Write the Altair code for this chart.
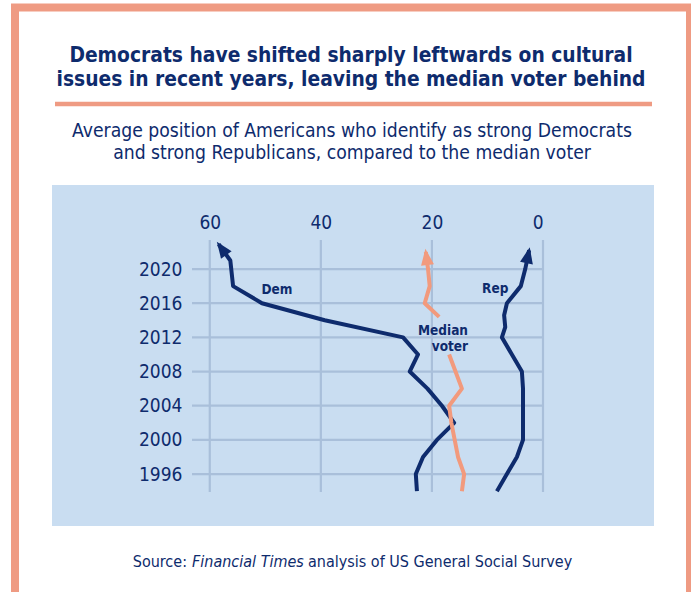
import math
import altair as alt
import pandas as pd

# ---------------- data ----------------
dem_years = [1994, 1996, 1998, 2000, 2002, 2004, 2006, 2008, 2010, 2012, 2014, 2016, 2018, 2021, 2022.9]
dem_vals = [22.7, 22.9, 21.6, 19.1, 16.0, 18.2, 20.8, 24.0, 22.5, 25.2, 39.3, 50.6, 55.8, 56.3, 58.4]

rep_years = [1994, 1996, 1998, 2000, 2002, 2004, 2006, 2008, 2010, 2012, 2013.2, 2014.6, 2016, 2018, 2020, 2022.2]
rep_vals = [8.3, 6.5, 4.7, 3.6, 3.6, 3.6, 3.6, 3.8, 5.6, 7.4, 6.8, 7.0, 6.5, 4.0, 3.2, 2.5]

med_years_a = [1994, 1996, 1998, 2000, 2002, 2004, 2006, 2010]
med_vals_a = [14.6, 14.2, 15.3, 15.9, 16.5, 16.9, 14.6, 16.9]
med_years_b = [2014.4, 2016, 2018, 2020, 2022.0]
med_vals_b = [18.7, 21.3, 20.4, 20.7, 21.1]

x_ticks = [0, 20, 40, 60]
y_ticks = [1996, 2000, 2004, 2008, 2012, 2016, 2020]

label_text = ["Dem", "Rep", "Median", "voter"]
label_vals = [47.9, 8.6, 13.5, 13.5]
label_years = [2017.6, 2017.7, 2012.7, 2010.9]
label_align = ["center", "center", "right", "right"]

title_lines = ["Democrats have shifted sharply leftwards on cultural",
               "issues in recent years, leaving the median voter behind"]
subtitle_lines = ["Average position of Americans who identify as strong Democrats",
                  "and strong Republicans, compared to the median voter"]

# ---------------- style ----------------
NAVY = "#0e2b6d"
SALMON = "#f29a7d"
BORDER = "#ef9b83"
PANEL = "#c9ddf1"
GRID = "#a9bfda"
NARROW = "'Liberation Sans Narrow', 'DejaVu Sans Condensed', 'Roboto', sans-serif"

X0, Y0 = 192, 240
W, H = 351, 252
XDOM = [0, 63.2]
YDOM = [1993.9, 2023.4]

xs = alt.Scale(domain=XDOM, reverse=True, nice=False, zero=False)
ys = alt.Scale(domain=YDOM, nice=False, zero=False)

X_AXIS = alt.Axis(orient="top", values=x_ticks, grid=False, domain=False, ticks=False,
                  labelFont=NARROW, labelFontSize=19, labelColor=NAVY,
                  labelPadding=8, zindex=1, title=None)
Y_AXIS = alt.Axis(orient="left", values=y_ticks, format="d", grid=False, domain=False,
                  ticks=False, labelFont=NARROW, labelFontSize=19, labelColor=NAVY,
                  labelPadding=10, zindex=1, title=None)

# ---------------- tables ----------------
rows = []
for y, v in zip(dem_years, dem_vals):
    rows.append({"series": "Dem", "seg": "dem", "year": y, "value": v})
for y, v in zip(rep_years, rep_vals):
    rows.append({"series": "Rep", "seg": "rep", "year": y, "value": v})
for y, v in zip(med_years_a, med_vals_a):
    rows.append({"series": "Median", "seg": "med_a", "year": y, "value": v})
for y, v in zip(med_years_b, med_vals_b):
    rows.append({"series": "Median", "seg": "med_b", "year": y, "value": v})
lines_df = pd.DataFrame(rows)

px_x = W / (XDOM[1] - XDOM[0])
px_y = H / (YDOM[1] - YDOM[0])


def head(series, years, vals):
    dx = -(vals[-1] - vals[-2]) * px_x
    dy = -(years[-1] - years[-2]) * px_y
    ang = math.degrees(math.atan2(dx, -dy)) % 360
    return {"series": series, "year": years[-1], "value": vals[-1], "angle": ang}


heads_df = pd.DataFrame([
    head("Dem", dem_years, dem_vals),
    head("Rep", rep_years, rep_vals),
    head("Median", med_years_b, med_vals_b),
])

labels_df = pd.DataFrame({"text": label_text, "value": label_vals,
                          "year": label_years, "align": label_align})

color = alt.Color("series:N", scale=alt.Scale(domain=["Dem", "Rep", "Median"],
                                              range=[NAVY, NAVY, SALMON]), legend=None)

one = alt.Data(values=[{}])


def box(x, x2, y, y2, **kw):
    return alt.Chart(one).mark_rect(**kw).encode(
        x=alt.value(x - X0), x2=alt.value(x2 - X0),
        y=alt.value(y - Y0), y2=alt.value(y2 - Y0))


def txt(text, x, y, size, weight="normal", style="normal", align="center",
        font=NARROW, col=NAVY):
    return alt.Chart(alt.Data(values=[{"t": text}])).mark_text(
        align=align, baseline="alphabetic", fontSize=size, fontWeight=weight,
        fontStyle=style, font=font, color=col
    ).encode(text="t:N", x=alt.value(x - X0), y=alt.value(y - Y0))


border = box(15, 690, 7.5, 700, fill="transparent", stroke=BORDER, strokeWidth=8)
panel = box(52, 654, 185, 526, fill=PANEL)
rule_title = alt.Chart(one).mark_rule(color=BORDER, strokeWidth=4.5).encode(
    x=alt.value(55 - X0), x2=alt.value(652 - X0), y=alt.value(104 - Y0))

vgrid = alt.Chart(pd.DataFrame({"value": x_ticks})).mark_rule(color=GRID, strokeWidth=2.2).encode(
    x=alt.X("value:Q", scale=xs, axis=X_AXIS), y=alt.value(0), y2=alt.value(H))
hgrid = alt.Chart(pd.DataFrame({"year": y_ticks})).mark_rule(color=GRID, strokeWidth=2.2).encode(
    y=alt.Y("year:Q", scale=ys, axis=Y_AXIS), x=alt.value(0), x2=alt.value(W))

lines = alt.Chart(lines_df).mark_line(strokeWidth=4, strokeJoin="round", strokeCap="butt").encode(
    x=alt.X("value:Q", scale=xs, axis=X_AXIS),
    y=alt.Y("year:Q", scale=ys, axis=Y_AXIS),
    color=color,
    detail="seg:N",
    order="year:Q",
)

heads = alt.Chart(heads_df).mark_point(
    shape="M0,-0.3L-0.62,1.25L0.62,1.25Z", filled=True, opacity=1, size=441, strokeWidth=0
).encode(
    x=alt.X("value:Q", scale=xs, axis=X_AXIS),
    y=alt.Y("year:Q", scale=ys, axis=Y_AXIS),
    angle=alt.Angle("angle:Q", scale=None),
    color=color,
)

labels_c = alt.Chart(labels_df[labels_df["align"] == "center"]).mark_text(
    align="center", baseline="middle", font=NARROW, fontSize=13.5, fontWeight="bold", color=NAVY
).encode(x=alt.X("value:Q", scale=xs, axis=X_AXIS), y=alt.Y("year:Q", scale=ys, axis=Y_AXIS),
         text="text:N")
labels_r = alt.Chart(labels_df[labels_df["align"] == "right"]).mark_text(
    align="right", baseline="middle", font=NARROW, fontSize=13.5, fontWeight="bold", color=NAVY
).encode(x=alt.X("value:Q", scale=xs, axis=X_AXIS), y=alt.Y("year:Q", scale=ys, axis=Y_AXIS),
         text="text:N")

t1 = txt(title_lines[0], 351, 62, 20.8, weight="bold")
t2 = txt(title_lines[1], 351, 86, 20.8, weight="bold")
s1 = txt(subtitle_lines[0], 352, 137, 19.2)
s2 = txt(subtitle_lines[1], 352, 159, 19.2)
src1 = txt("Source:", 187, 567, 16, align="right")
src2 = txt("Financial Times", 192, 567, 16, style="italic", align="left")
src3 = txt("analysis of US General Social Survey", 308, 567, 16, align="left")

chart = alt.layer(
    border, panel, rule_title, vgrid, hgrid, lines, heads, labels_c, labels_r,
    t1, t2, s1, s2, src1, src2, src3
).properties(
    width=W, height=H,
    autosize=alt.AutoSizeParams(type="none"),
    padding={"left": X0, "top": Y0, "right": 691 - X0 - W, "bottom": 592 - Y0 - H},
    background="white",
).configure_view(strokeWidth=0)

chart.save("out.html", embed_options={"renderer": "svg", "actions": False})
